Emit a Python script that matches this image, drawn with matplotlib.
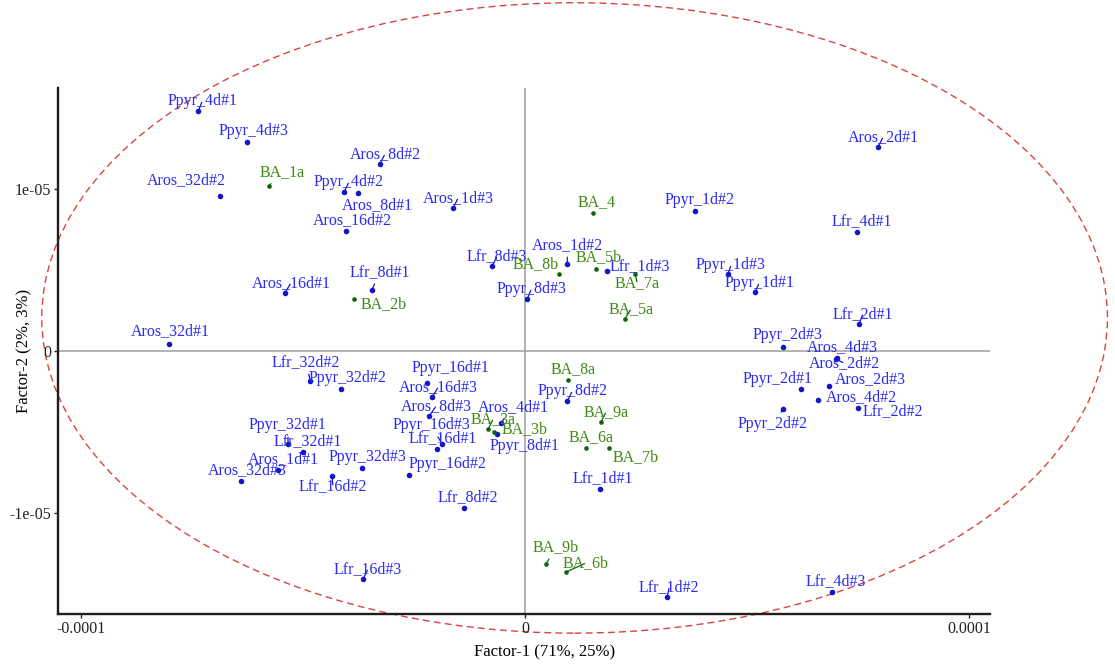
import matplotlib
matplotlib.use("Agg")
import matplotlib.pyplot as plt
from matplotlib.patches import Ellipse

plt.rcParams['font.family'] = ['Liberation Serif', 'DejaVu Serif']

# ---- sample scores (Factor-1, Factor-2) ----
sample_names = [
    "Ppyr_4d#1", "Ppyr_4d#3", "Aros_32d#2", "Aros_8d#2", "Ppyr_4d#2", "Aros_8d#1",
    "Aros_16d#2", "Aros_1d#3", "Lfr_8d#1", "Aros_16d#1", "Aros_32d#1", "Lfr_8d#3",
    "Aros_1d#2", "Ppyr_8d#3", "Lfr_1d#3", "Ppyr_1d#2", "Ppyr_1d#3", "Ppyr_1d#1",
    "Aros_2d#1", "Lfr_4d#1", "Lfr_2d#1", "Ppyr_2d#3", "Aros_4d#3", "Aros_2d#2",
    "Aros_2d#3", "Ppyr_2d#1", "Aros_4d#2", "Lfr_2d#2", "Ppyr_2d#2", "Lfr_4d#3",
    "Lfr_1d#2", "Lfr_1d#1", "Ppyr_8d#2", "Aros_4d#1", "Ppyr_8d#1", "Ppyr_16d#1",
    "Aros_16d#3", "Aros_8d#3", "Ppyr_16d#3", "Lfr_16d#1", "Ppyr_16d#2", "Lfr_8d#2",
    "Lfr_16d#3", "Lfr_32d#2", "Ppyr_32d#2", "Ppyr_32d#1", "Lfr_32d#1", "Aros_1d#1",
    "Aros_32d#3", "Lfr_16d#2", "Ppyr_32d#3",
]
sample_f1 = [
    -7.36e-5, -6.26e-5, -6.87e-5, -3.27e-5, -4.08e-5, -3.76e-5,
    -4.03e-5, -1.62e-5, -3.45e-5, -5.41e-5, -8.02e-5, -0.74e-5,
    0.95e-5, 0.05e-5, 1.85e-5, 3.83e-5, 4.57e-5, 5.18e-5,
    7.95e-5, 7.48e-5, 7.52e-5, 5.81e-5, 7.03e-5, 7.00e-5,
    6.85e-5, 6.22e-5, 6.60e-5, 7.50e-5, 5.81e-5, 6.91e-5,
    3.20e-5, 1.69e-5, 0.95e-5, -0.54e-5, -0.63e-5, -2.21e-5,
    -2.09e-5, -2.16e-5, -1.87e-5, -1.98e-5, -2.61e-5, -1.37e-5,
    -3.65e-5, -4.84e-5, -4.14e-5, -5.34e-5, -5.00e-5, -5.56e-5,
    -6.40e-5, -4.35e-5, -3.67e-5,
]
sample_f2 = [
    14.81e-6, 12.90e-6, 9.57e-6, 11.54e-6, 9.81e-6, 9.75e-6,
    7.41e-6, 8.83e-6, 3.77e-6, 3.58e-6, 0.43e-6, 5.25e-6,
    5.37e-6, 3.21e-6, 4.94e-6, 8.64e-6, 4.75e-6, 3.64e-6,
    12.59e-6, 7.35e-6, 1.67e-6, 0.25e-6, -0.43e-6, -0.50e-6,
    -2.16e-6, -2.35e-6, -3.02e-6, -3.52e-6, -3.58e-6, -14.88e-6,
    -15.19e-6, -8.52e-6, -3.09e-6, -4.44e-6, -5.12e-6, -1.98e-6,
    -2.84e-6, -4.01e-6, -5.74e-6, -6.05e-6, -7.65e-6, -9.69e-6,
    -14.07e-6, -1.85e-6, -2.35e-6, -5.74e-6, -6.23e-6, -7.35e-6,
    -8.02e-6, -7.72e-6, -7.22e-6,
]

# ---- BA scores (Factor-1, Factor-2) ----
ba_names = ["BA_1a", "BA_2b", "BA_4", "BA_8b", "BA_5b", "BA_7a", "BA_5a", "BA_8a",
            "BA_9a", "BA_6a", "BA_7b", "BA_3a", "BA_3b", "BA_9b", "BA_6b"]
ba_f1 = [-5.77e-5, -3.85e-5, 1.53e-5, 0.77e-5, 1.60e-5, 2.48e-5, 2.25e-5, 0.97e-5,
         1.71e-5, 1.37e-5, 1.89e-5, -0.83e-5, -0.70e-5, 0.47e-5, 0.92e-5]
ba_f2 = [10.19e-6, 3.21e-6, 8.52e-6, 4.75e-6, 5.06e-6, 4.75e-6, 1.98e-6, -1.79e-6,
         -4.38e-6, -5.99e-6, -5.99e-6, -4.81e-6, -5.00e-6, -13.15e-6, -13.64e-6]

# confidence ellipse: centre, full width, full height
ellipse_center = (1.115e-5, 2.04e-6)
ellipse_width = 2.40e-4
ellipse_height = 3.89e-5

x_ticks = [-1e-4, 0, 1e-4]
x_tick_labels = ["-0.0001", "0", "0.0001"]
y_ticks = [-1e-5, 0, 1e-5]
y_tick_labels = ["-1e-05", "0", "1e-05"]

# label placement (pixel offsets from each point)
sample_label_offsets = [
    (4, 10), (6, 11), (-34, 16), (5, 10), (5, 10), (19, -12),
    (6, 11), (5, 10), (8, 18), (6, 10), (1, 13), (5, 10),
    (0, 19), (4, 10), (33, 5), (4, 11), (3, 9), (4, 9),
    (5, 10), (5, 11), (4, 10), (4, 12), (5, 11), (8, -4),
    (41, 7), (-24, 10), (43, 3), (35, -3), (-10, -15), (4, 11),
    (2, 10), (3, 11), (5, 10), (12, 16), (27, -12), (24, 15),
    (6, 10), (7, 10), (-11, 19), (6, 11), (38, 11), (4, 11),
    (5, 10), (-4, 19), (6, 11), (0, 19), (5, 11), (5, 11),
    (6, 11), (1, -10), (5, 11),
]
ba_label_offsets = [
    (13, 14), (29, -5), (4, 11), (-24, 10), (3, 12), (2, -9), (6, 10), (5, 11),
    (5, 10), (5, 11), (27, -9), (5, 10), (31, 3), (10, 17), (20, 9),
]

fig = plt.figure(figsize=(11.15, 6.66), dpi=100)
ax = fig.add_axes([58 / 1115, 1 - 614 / 666, 932 / 1115, 526 / 666])

ax.set_xlim(-1.052e-4, 1.047e-4)
ax.set_ylim(-1.623e-5, 1.623e-5)

ax.axhline(0, color="#a6a6a6", lw=1.2, zorder=0)
ax.axvline(0, color="#a6a6a6", lw=1.2, zorder=0)

ax.add_patch(Ellipse(ellipse_center, ellipse_width, ellipse_height, fill=False,
                     ec="#d9453f", lw=1.0, ls=(0, (5, 3)), clip_on=False, zorder=1))


def draw_group(names, f1, f2, offsets, dot_color, text_color, size):
    ax.scatter(f1, f2, s=size, color=dot_color, zorder=3, linewidths=0)
    for name, x, y, (dx, dy) in zip(names, f1, f2, offsets):
        # short leader segment only for labels sitting close to their point
        leader = None
        if abs(dx) <= 20 and abs(dy) <= 20:
            leader = dict(arrowstyle="-", color=dot_color, lw=0.9,
                          shrinkA=1, shrinkB=1)
        ax.annotate(name, xy=(x, y), xytext=(dx, dy), textcoords="offset pixels",
                    ha="center", va="center", fontsize=11.5, color=text_color,
                    annotation_clip=False, zorder=4, arrowprops=leader)


draw_group(sample_names, sample_f1, sample_f2, sample_label_offsets,
           "#1414c8", "#2a2af2", 16)
draw_group(ba_names, ba_f1, ba_f2, ba_label_offsets,
           "#0b650b", "#3f8a12", 11)

for side in ("top", "right"):
    ax.spines[side].set_visible(False)
for side in ("left", "bottom"):
    ax.spines[side].set_linewidth(1.7)
    ax.spines[side].set_color("#1e1e1e")

ax.set_xticks(x_ticks)
ax.set_xticklabels(x_tick_labels)
ax.set_yticks(y_ticks)
ax.set_yticklabels(y_tick_labels)
ax.tick_params(direction="out", length=3, width=1, labelsize=11.5, pad=2,
               colors="#222222")

ax.set_xlabel("Factor-1 (71%, 25%)", fontsize=12)
ax.set_ylabel("Factor-2 (2%, 3%)", fontsize=12)
ax.xaxis.set_label_coords(0.5225, -0.058)
ax.yaxis.set_label_coords(-0.028, 0.5)

fig.savefig("out.png", dpi=100)
